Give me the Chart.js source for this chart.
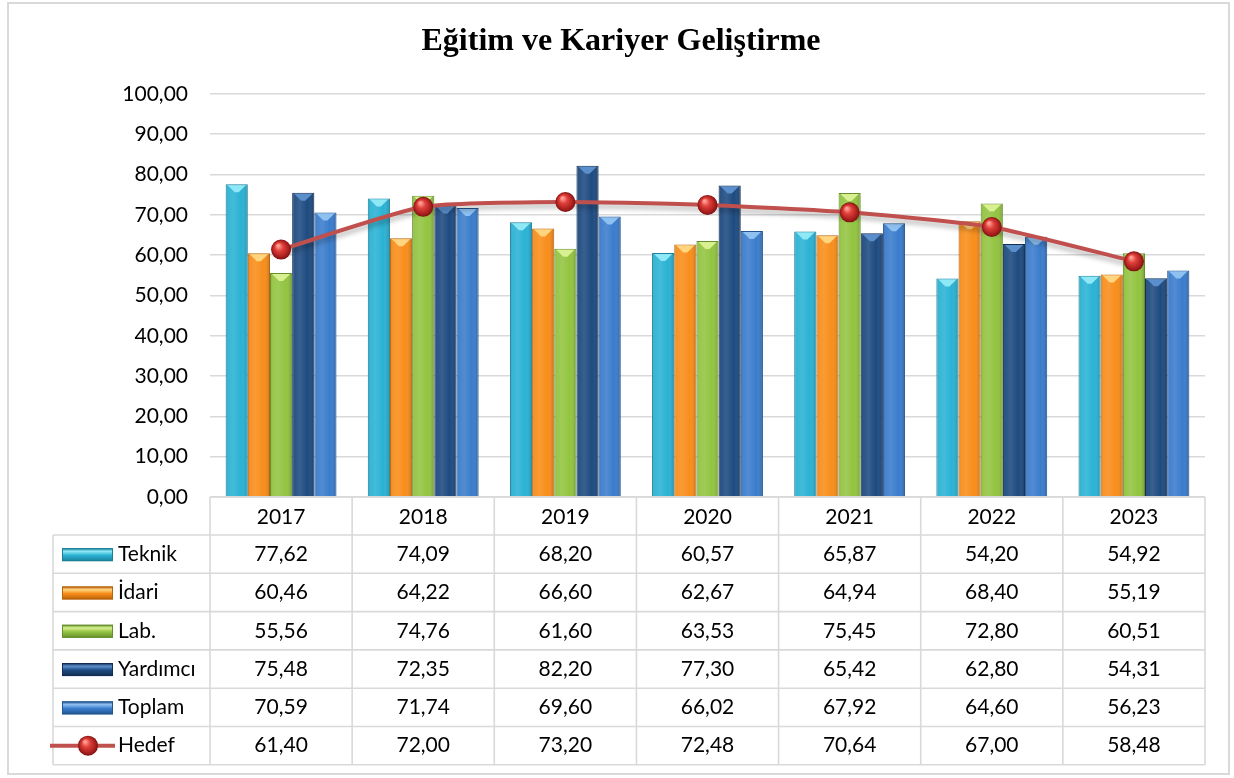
<!DOCTYPE html>
<html>
<head>
<meta charset="utf-8">
<script src="https://cdn.jsdelivr.net/npm/chart.js@4"></script>
<style>
  html, body { margin: 0; padding: 0; background: #fff; }
  canvas { display: block; }
</style>
</head>
<body>
<canvas id="chart" width="1234" height="778"></canvas>
<script>
const years = ['2017', '2018', '2019', '2020', '2021', '2022', '2023'];
const teknik = [77.62, 74.09, 68.20, 60.57, 65.87, 54.20, 54.92];
const idari = [60.46, 64.22, 66.60, 62.67, 64.94, 68.40, 55.19];
const lab = [55.56, 74.76, 61.60, 63.53, 75.45, 72.80, 60.51];
const yardimci = [75.48, 72.35, 82.20, 77.30, 65.42, 62.80, 54.31];
const toplam = [70.59, 71.74, 69.60, 66.02, 67.92, 64.60, 56.23];
const hedef = [61.40, 72.00, 73.20, 72.48, 70.64, 67.00, 58.48];

const chartTitle = 'Eğitim ve Kariyer Geliştirme';
const fontFam = 'Lato, "Noto Sans", sans-serif';

const fmt = v => v.toFixed(2).replace('.', ',');

// base / light / dark for each bar series
const barColors = [
    { base: '#2AB2D4', light: '#8EE8F6', dark: '#1B7F99' },
    { base: '#F88D1A', light: '#FFD67F', dark: '#B9630D' },
    { base: '#92C440', light: '#D8F08F', dark: '#648F2C' },
    { base: '#1D4A80', light: '#5B8FCB', dark: '#112D52' },
    { base: '#3A7CCC', light: '#8EC0F0', dark: '#22548F' }
];

function barSet(label, data, c) {
    return {
        type: 'bar',
        label: label,
        data: data,
        backgroundColor: c.base,
        borderColor: c.dark,
        borderWidth: 1,
        categoryPercentage: 0.78,
        barPercentage: 1,
        order: 1,
        _col: c
    };
}

// bevelled look for the bars, red spheres + shadow for the line
const effects = {
    id: 'effects',
    beforeDatasetDraw(chart, args) {
        if (args.meta.type === 'line') {
            const ctx = chart.ctx;
            ctx.save();
            ctx.shadowColor = 'rgba(0,0,0,0.28)';
            ctx.shadowBlur = 5;
            ctx.shadowOffsetY = 4;
        }
    },
    afterDatasetDraw(chart, args) {
        const ctx = chart.ctx;
        const ds = chart.data.datasets[args.index];
        if (args.meta.type === 'line') {
            ctx.restore();
            args.meta.data.forEach(pt => {
                const {x, y} = pt.getProps(['x', 'y'], true);
                const r = 10;
                const g = ctx.createRadialGradient(x - 3, y - 4, 1, x, y, r);
                g.addColorStop(0, '#FF9C94');
                g.addColorStop(0.35, '#E0403A');
                g.addColorStop(0.8, '#A81E1E');
                g.addColorStop(1, '#7A1212');
                ctx.beginPath();
                ctx.arc(x, y, r, 0, Math.PI * 2);
                ctx.fillStyle = g;
                ctx.fill();
            });
            return;
        }
        const c = ds._col;
        args.meta.data.forEach(el => {
            const {x, y, base, width} = el.getProps(['x', 'y', 'base', 'width'], true);
            const l = x - width / 2, r = x + width / 2;
            const g = ctx.createLinearGradient(l, 0, r, 0);
            g.addColorStop(0, 'rgba(0,0,0,0.18)');
            g.addColorStop(0.12, 'rgba(255,255,255,0.06)');
            g.addColorStop(0.35, 'rgba(255,255,255,0.12)');
            g.addColorStop(0.7, 'rgba(255,255,255,0)');
            g.addColorStop(1, 'rgba(0,0,0,0.22)');
            ctx.fillStyle = g;
            ctx.fillRect(l + 1, y + 1, width - 2, base - y - 1);
            // chevron cap
            ctx.beginPath();
            ctx.moveTo(l + 2, y + 1);
            ctx.lineTo(r - 2, y + 1);
            ctx.lineTo(x + 2, y + 8);
            ctx.lineTo(x - 2, y + 8);
            ctx.closePath();
            ctx.fillStyle = c.light;
            ctx.fill();
        });
    }
};

// title, outer frame and data table with legend keys
const tablePlugin = {
    id: 'tablePlugin',
    afterDraw(chart) {
        const ctx = chart.ctx;
        const area = chart.chartArea;
        const xs = chart.scales.x;
        const colW = (area.right - area.left) / years.length;
        const top = area.bottom;
        const headH = 38;
        const rowH = 38.3;
        const left = 53;
        const rows = chart.data.datasets;
        const bottom = top + headH + rowH * rows.length;

        ctx.save();
        // frame
        ctx.strokeStyle = '#D9D9D9';
        ctx.lineWidth = 2;
        ctx.strokeRect(8, 3, 1221, 771);

        // title
        ctx.fillStyle = '#000';
        ctx.font = 'bold 32px "Liberation Serif", "Times New Roman", serif';
        ctx.textAlign = 'center';
        ctx.textBaseline = 'alphabetic';
        ctx.fillText(chartTitle, 621, 50);

        // grid of table
        ctx.strokeStyle = '#D9D9D9';
        ctx.lineWidth = 1.6;
        ctx.beginPath();
        ctx.moveTo(area.left, top);
        ctx.lineTo(area.right, top);
        for (let i = 0; i <= rows.length; i++) {
            const y = top + headH + i * rowH;
            ctx.moveTo(left, y);
            ctx.lineTo(area.right, y);
        }
        ctx.moveTo(left, top + headH);
        ctx.lineTo(left, bottom);
        for (let i = 0; i <= years.length; i++) {
            const x = area.left + i * colW;
            ctx.moveTo(x, top);
            ctx.lineTo(x, bottom);
        }
        ctx.stroke();

        ctx.font = '21px ' + fontFam;
        ctx.fillStyle = '#000';
        ctx.textBaseline = 'middle';
        ctx.textAlign = 'center';
        years.forEach((yr, i) => {
            ctx.fillText(yr, xs.getPixelForValue(i), top + headH / 2 + 1);
        });

        rows.forEach((ds, r) => {
            const cy = top + headH + r * rowH + rowH / 2;
            // legend key
            if (ds.type === 'line') {
                ctx.strokeStyle = '#C0504D';
                ctx.lineWidth = 4;
                ctx.beginPath();
                ctx.moveTo(50, cy);
                ctx.lineTo(115, cy);
                ctx.stroke();
                const g = ctx.createRadialGradient(85, cy - 4, 1, 88, cy, 10);
                g.addColorStop(0, '#FF9C94');
                g.addColorStop(0.35, '#E0403A');
                g.addColorStop(0.8, '#A81E1E');
                g.addColorStop(1, '#7A1212');
                ctx.beginPath();
                ctx.arc(88, cy, 10, 0, Math.PI * 2);
                ctx.fillStyle = g;
                ctx.fill();
            } else {
                const c = ds._col;
                const g = ctx.createLinearGradient(0, cy - 6, 0, cy + 7);
                g.addColorStop(0, c.dark);
                g.addColorStop(0.25, c.light);
                g.addColorStop(0.55, c.base);
                g.addColorStop(1, c.dark);
                ctx.fillStyle = g;
                ctx.fillRect(62, cy - 6, 51, 13);
                ctx.strokeStyle = c.dark;
                ctx.lineWidth = 1;
                ctx.strokeRect(62.5, cy - 5.5, 50, 12);
            }
            ctx.fillStyle = '#000';
            ctx.textAlign = 'left';
            ctx.fillText(ds.label, 118, cy);
            ctx.textAlign = 'center';
            ds.data.forEach((v, i) => {
                ctx.fillText(fmt(v), xs.getPixelForValue(i), cy);
            });
        });
        ctx.restore();
    }
};

const config = {
    data: {
        labels: years,
        datasets: [
            barSet('Teknik', teknik, barColors[0]),
            barSet('İdari', idari, barColors[1]),
            barSet('Lab.', lab, barColors[2]),
            barSet('Yardımcı', yardimci, barColors[3]),
            barSet('Toplam', toplam, barColors[4]),
            {
                type: 'line',
                label: 'Hedef',
                data: hedef,
                borderColor: '#C0504D',
                borderWidth: 4,
                tension: 0.18,
                pointRadius: 0,
                order: 0
            }
        ]
    },
    options: {
        responsive: false,
        animation: false,
        layout: { padding: { left: 0, right: 29, top: 94, bottom: 243 } },
        plugins: {
            legend: { display: false },
            tooltip: { enabled: false },
            title: { display: false }
        },
        scales: {
            x: {
                ticks: { display: false },
                grid: { display: false },
                border: { display: false },
                afterFit(scale) { scale.height = 38; }
            },
            y: {
                min: 0,
                max: 100,
                ticks: {
                    stepSize: 10,
                    color: '#000',
                    padding: 22,
                    font: { family: fontFam, size: 21 },
                    callback: v => fmt(v)
                },
                grid: { color: '#D9D9D9', lineWidth: 1.6, drawTicks: false },
                border: { display: false },
                afterFit(scale) { scale.width = 210; }
            }
        }
    },
    plugins: [effects, tablePlugin]
};

new Chart(document.getElementById('chart').getContext('2d'), config);
</script>
</body>
</html>
